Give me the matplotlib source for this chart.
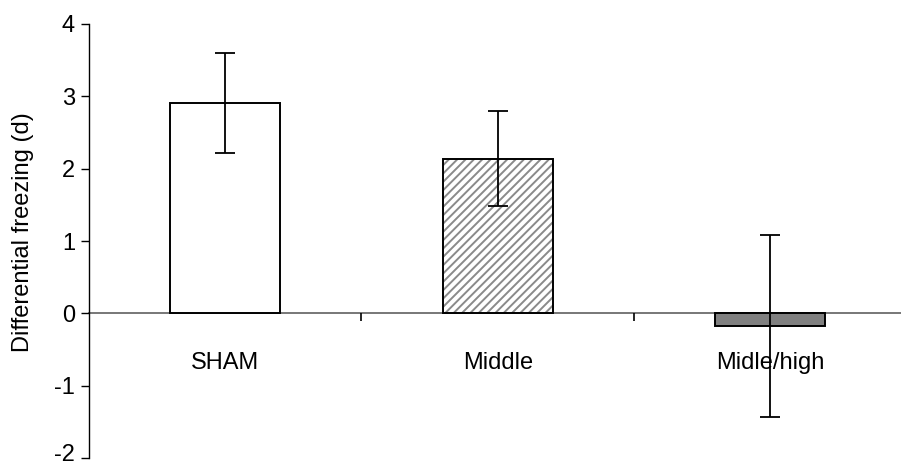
import matplotlib
matplotlib.use("Agg")
import matplotlib.pyplot as plt
from matplotlib.ticker import FixedLocator
from matplotlib.transforms import ScaledTranslation

plt.rcParams['font.family'] = ['Liberation Sans', 'DejaVu Sans']
plt.rcParams['hatch.linewidth'] = 1.4

# Group means and error bar half-widths
groups = ["SHAM", "Middle", "Midle/high"]
means = [2.91, 2.14, -0.18]
errors = [0.69, 0.66, 1.26]
y_ticks = [-2, -1, 0, 1, 2, 3, 4]

fig = plt.figure(figsize=(9.01, 4.66), dpi=100)
ax = fig.add_axes([89 / 901, 8 / 466, (901 - 89) / 901, 434 / 466])

x = list(range(len(groups)))
fills = ["white", "white", "#808080"]
hatches = [None, "////", None]
hatch_colors = ["white", "#8a8a8a", "#808080"]

# Fill (with gray hatching where needed), then black outlines on top
fill_bars = ax.bar(x, means, width=0.404, color=fills,
                   edgecolor=hatch_colors, linewidth=0, zorder=2)
for b, h in zip(fill_bars, hatches):
    if h:
        b.set_hatch(h)
ax.bar(x, means, width=0.404, fill=False, edgecolor="black",
       linewidth=1.4, zorder=2.5)
ax.errorbar(x, means, yerr=errors, fmt="none", ecolor="black",
            elinewidth=1.3, capsize=7.5, capthick=1.3, zorder=3)

ax.set_xlim(-0.5, 2.48)
ax.set_ylim(-2, 4)
ax.set_yticks(y_ticks)
ax.set_yticklabels([str(t) for t in y_ticks])

ax.set_xticks(x)
ax.set_xticklabels(groups)
ax.xaxis.set_minor_locator(FixedLocator([0.5, 1.5]))
ax.tick_params(axis="x", which="major", length=0, pad=28, labelsize=17)
ax.tick_params(axis="x", which="minor", length=6, width=1.2, color="black",
               direction="out")
ax.tick_params(axis="y", length=6, width=1.0, pad=4, labelsize=17)

# lift the lowest y label slightly so it stays inside the canvas
low = ax.get_yticklabels()[0]
low.set_transform(low.get_transform()
                  + ScaledTranslation(0, 4 / 72, fig.dpi_scale_trans))

for s in ("top", "right"):
    ax.spines[s].set_visible(False)
ax.spines["bottom"].set_position(("data", 0))
ax.spines["bottom"].set_color("#606060")
ax.spines["bottom"].set_linewidth(1.2)
ax.spines["bottom"].set_zorder(1)
ax.spines["left"].set_linewidth(1.0)

ax.set_ylabel("Differential freezing (d)", fontsize=17)
ax.yaxis.set_label_coords(-0.068, 0.52)

fig.savefig("out.png", dpi=100)
